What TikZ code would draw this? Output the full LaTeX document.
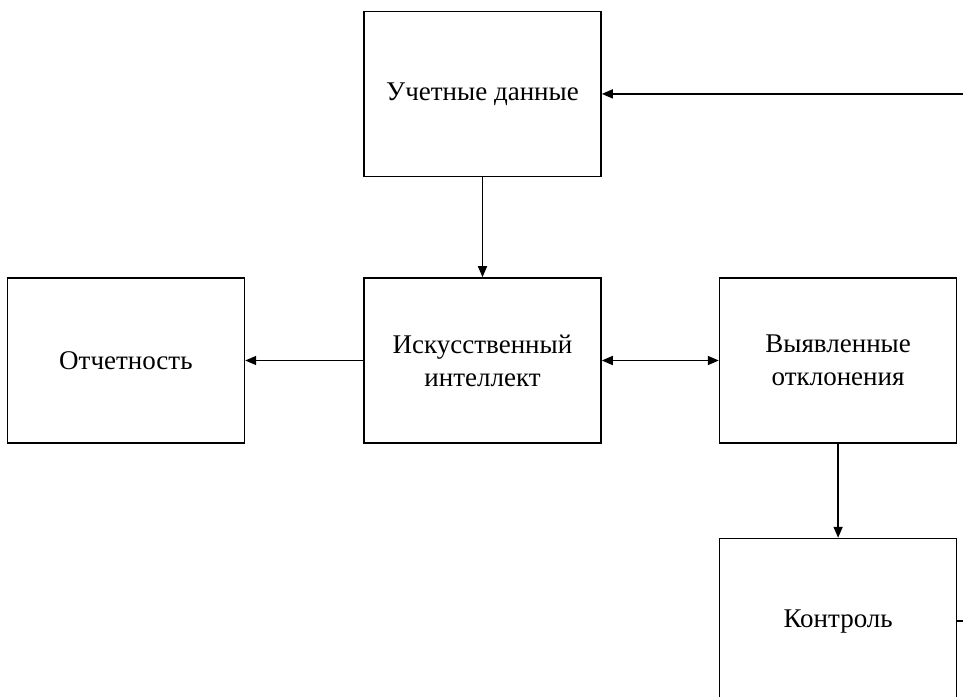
\documentclass[tikz,border=0pt]{standalone}
\usepackage{fontspec}
\setmainfont{Liberation Serif}
\usetikzlibrary{arrows.meta,positioning}

\begin{document}
\begin{tikzpicture}[x=1pt,y=1pt,
  block/.style={draw, line width=1.6pt, minimum width=237pt, minimum height=165pt,
    align=center, inner sep=0pt, font=\fontsize{27}{33}\selectfont},
  link/.style={line width=1.6pt, -{Triangle[length=11pt,width=9pt]}},
  node distance=100pt and 117pt]
  \useasboundingbox (0,0) rectangle (963,-696);
  \clip (0,0) rectangle (963,-696);
  % blocks
  \node[block] (ai) at (482.5,-360.5) {Искусственный\\интеллект};
  \node[block, above=of ai] (data) {Учетные данные};
  \node[block, left=118pt of ai] (report) {Отчетность};
  \node[block, right=of ai] (dev) {Выявленные\\отклонения};
  \node[block, below=94pt of dev] (ctrl) {Контроль};
  % free ends at the right edge
  \coordinate (edge) at (963,0);
  \coordinate (in) at (data.east -| edge);
  \coordinate (out) at (ctrl.east -| edge);
  % connectors
  \draw[link] (in) -- (data.east);
  \draw[link] (data) -- (ai);
  \draw[link] (ai) -- (report);
  \draw[link, {Triangle[length=11pt,width=9pt]}-{Triangle[length=11pt,width=9pt]}] (ai) -- (dev);
  \draw[link] (dev) -- (ctrl);
  \draw[line width=1.6pt] (ctrl.east) -- (out);
\end{tikzpicture}
\end{document}
